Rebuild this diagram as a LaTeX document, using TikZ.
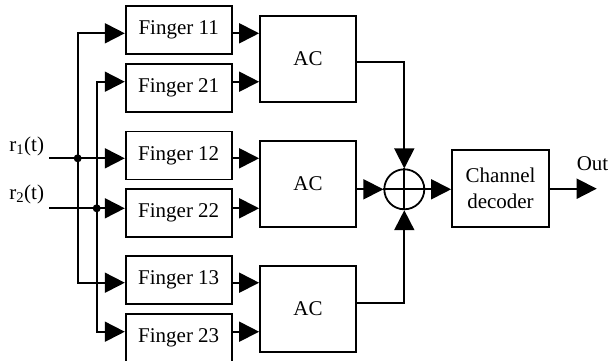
\documentclass[tikz,border=0pt]{standalone}
\usepackage{fontspec}
\setmainfont{Liberation Serif}
\usetikzlibrary{arrows.meta}
\tikzset{
  blk/.style={draw, line width=1.8pt, inner sep=0pt, font=\fontsize{21}{26}\selectfont},
  arr/.style={line width=1.8pt, -{Triangle[length=20pt,width=20pt]}},
  ln/.style={line width=1.8pt},
  jdot/.style={circle, fill, inner sep=0pt, minimum size=8pt},
  lbl/.style={font=\fontsize{21}{26}\selectfont, inner sep=0pt}
}
\begin{document}
\begin{tikzpicture}[x=1pt,y=-1pt]
\useasboundingbox (0,0) rectangle (616,360);
% finger boxes
\node[blk, minimum width=106pt, minimum height=48pt] (f11) at (178.7,30) {Finger 11};
\node[blk, minimum width=106pt, minimum height=48pt] (f21) at (178.7,88) {Finger 21};
\node[blk, minimum width=106pt, minimum height=48pt] (f12) at (178.7,155.5) {Finger 12};
\node[blk, minimum width=106pt, minimum height=48pt] (f22) at (178.7,213.3) {Finger 22};
\node[blk, minimum width=106pt, minimum height=48pt] (f13) at (178.7,280) {Finger 13};
\node[blk, minimum width=106pt, minimum height=48pt] (f23) at (178.7,338) {Finger 23};
% AC boxes
\node[blk, minimum width=96pt, minimum height=86pt] (ac1) at (308,58.7) {AC};
\node[blk, minimum width=96pt, minimum height=86pt] (ac2) at (308,184) {AC};
\node[blk, minimum width=96pt, minimum height=86pt] (ac3) at (308,308.7) {AC};
% summer
\node[draw, circle, line width=1.8pt, minimum size=40pt, inner sep=0pt] (sum) at (404.3,189.3) {};
\draw[ln] (sum.north) -- (sum.south);
\draw[ln] (sum.west) -- (sum.east);
% decoder
\node[blk, minimum width=97pt, minimum height=77pt, align=center] (dec) at (500.5,188.7) {Channel\\decoder};
% levels
\coordinate (y11) at (0,33.3);
\coordinate (y21) at (0,81.7);
\coordinate (y12) at (0,158.3);
\coordinate (y22) at (0,208.3);
\coordinate (y13) at (0,282.7);
\coordinate (y23) at (0,331.7);
\coordinate (ya1) at (0,62.3);
\coordinate (ya3) at (0,302.7);
% inputs
\coordinate (r1s) at (49,158.3);
\coordinate (r2s) at (49,208.3);
\node[lbl] (r1) at (26.7,146) {r\textsubscript{1}(t)};
\node[lbl] (r2) at (26.7,194) {r\textsubscript{2}(t)};
\node[jdot] (d1) at (77.7,158.3) {};
\node[jdot] (d2) at (96.7,208.3) {};
\draw[arr] (r1s) -- (f12.west |- y12);
\draw[arr] (r2s) -- (f22.west |- y22);
\draw[arr] (d1.center) |- (f11.west |- y11);
\draw[arr] (d1.center) |- (f13.west |- y13);
\draw[arr] (d2.center) |- (f21.west |- y21);
\draw[arr] (d2.center) |- (f23.west |- y23);
% finger to AC
\draw[arr] (f11.east |- y11) -- (ac1.west |- y11);
\draw[arr] (f21.east |- y21) -- (ac1.west |- y21);
\draw[arr] (f12.east |- y12) -- (ac2.west |- y12);
\draw[arr] (f22.east |- y22) -- (ac2.west |- y22);
\draw[arr] (f13.east |- y13) -- (ac3.west |- y13);
\draw[arr] (f23.east |- y23) -- (ac3.west |- y23);
% AC to summer
\draw[arr] (ac1.east |- ya1) -| (sum.north);
\draw[arr] (ac2.east |- sum) -- (sum.west);
\draw[arr] (ac3.east |- ya3) -| (sum.south);
% summer to decoder and out
\draw[arr] (sum.east) -- (dec.west |- sum);
\coordinate (outend) at (596.7,188.7);
\draw[arr] (dec.east) -- (outend);
\node[lbl, anchor=base] (outl) at (592.5,170) {Out};
\end{tikzpicture}
\end{document}
